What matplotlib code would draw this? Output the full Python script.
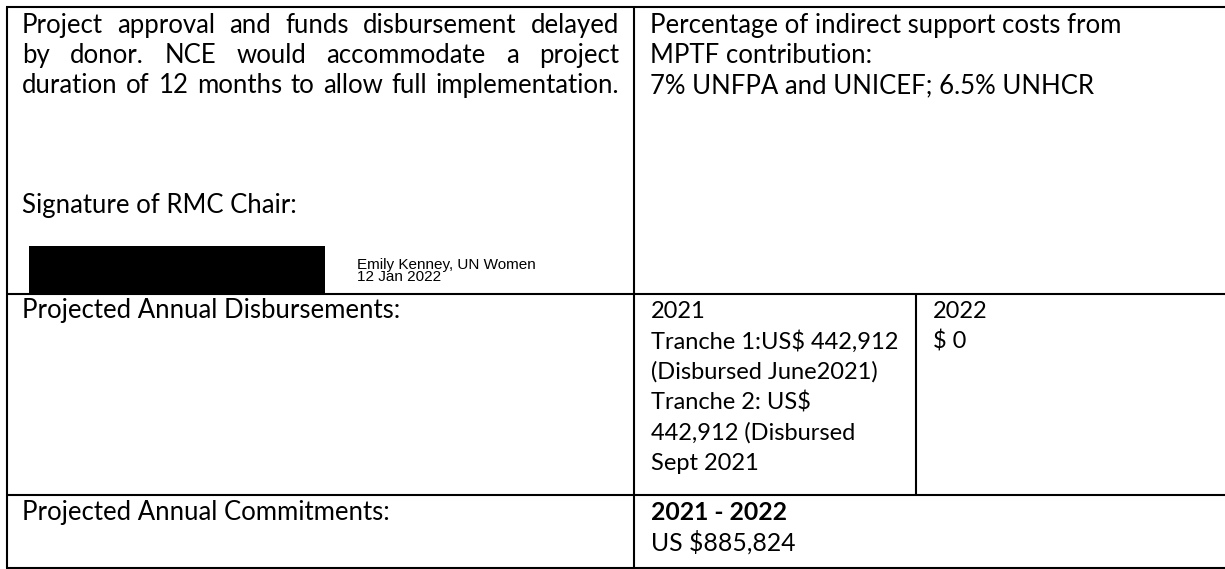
import matplotlib
matplotlib.use('Agg')
import matplotlib.pyplot as plt
from matplotlib.patches import Rectangle

# ---------------- content ----------------
note_lines = ["Project approval and funds disbursement delayed",
              "by donor. NCE would accommodate a project",
              "duration of 12 months to allow full implementation."]
signature_label = "Signature of RMC Chair:"
signer_lines = ["Emily Kenney, UN Women", "12 Jan 2022"]
isc_lines = ["Percentage of indirect support costs from",
             "MPTF contribution:",
             "7% UNFPA and UNICEF; 6.5% UNHCR"]
disb_label = "Projected Annual Disbursements:"
disb_2021 = ["2021", "Tranche 1:US$ 442,912", "(Disbursed June2021)",
             "Tranche 2: US$", "442,912 (Disbursed", "Sept 2021"]
disb_2022 = ["2022", "$ 0"]
commit_label = "Projected Annual Commitments:"
commit_head = "2021 - 2022"
commit_value = "US $885,824"

# ---------------- layout ----------------
W, H = 1225, 569
fig = plt.figure(figsize=(W / 100, H / 100), dpi=100)
ax = fig.add_axes([0, 0, 1, 1])
ax.set_xlim(0, W)
ax.set_ylim(H, 0)
ax.axis('off')

FONT = 'Lato'
FS = 18.5
FS_SMALL = 17
LS = 30
LW = 1.5

def txt(x, y, s, **kw):
    kw.setdefault('fontsize', FS)
    kw.setdefault('family', FONT)
    return ax.text(x, y, s, va='baseline', ha='left', parse_math=False, **kw)

# grid lines
def hline(y, x0, x1):
    ax.plot([x0, x1], [y, y], color='black', lw=LW, solid_capstyle='butt')

def vline(x, y0, y1):
    ax.plot([x, x], [y0, y1], color='black', lw=LW, solid_capstyle='butt')

L, R, T, B = 7, 1225, 7, 568
C1, C2 = 634, 916
R1, R2 = 294, 495
hline(T, L - 1, R)
hline(R1, L, R)
hline(R2, L, R)
hline(B, L - 1, R)
vline(L, T, B)
vline(C1, T, B)
vline(C2, R1, R2)

# justified note paragraph
renderer = fig.canvas.get_renderer()
x0, x1 = 22, 619
for i, line in enumerate(note_lines):
    y = 33 + i * LS
    words = line.split(' ')
    arts = [txt(0, y, w) for w in words]
    widths = [a.get_window_extent(renderer).width for a in arts]
    gap = (x1 - x0 - sum(widths)) / (len(words) - 1)
    gap = max(gap, 2)
    x = x0
    for a, w in zip(arts, widths):
        a.set_x(x)
        x += w + gap

txt(22, 213, signature_label)

# redacted signature box
ax.add_patch(Rectangle((29, 246), 296, 48, color='black', lw=0))
for i, s in enumerate(signer_lines):
    txt(357, 269 + i * 12, s, fontsize=11, family='Liberation Sans')

for i, s in enumerate(isc_lines):
    txt(650, 33 + i * LS, s)

txt(22, 318, disb_label)
for i, s in enumerate(disb_2021):
    txt(651, 318 + i * 30.4, s, fontsize=FS_SMALL)
for i, s in enumerate(disb_2022):
    txt(933, 318 + i * 30.4, s, fontsize=FS_SMALL)

txt(22, 520, commit_label)
txt(651, 520, commit_head, fontweight='bold', fontsize=17.8)
txt(651, 551, commit_value, fontsize=17.8)

fig.savefig('out.png', dpi=100, facecolor='white')
